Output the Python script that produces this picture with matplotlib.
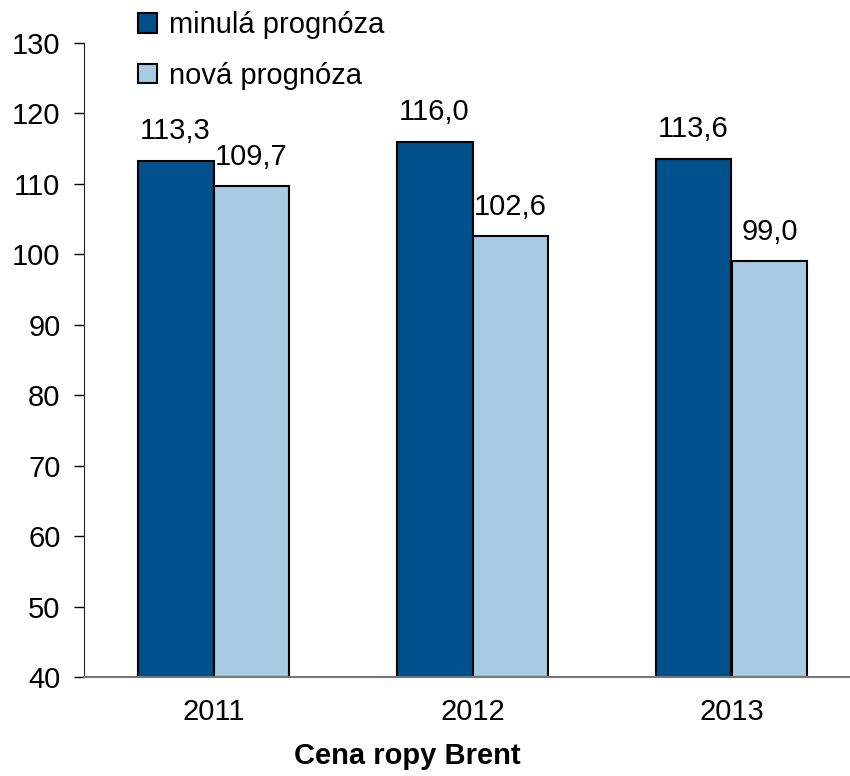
import numpy as np
import matplotlib.pyplot as plt
from matplotlib.patches import Patch

plt.rcParams['font.family'] = ['Liberation Sans', 'DejaVu Sans']

years = ["2011", "2012", "2013"]
old_forecast = [113.3, 116.0, 113.6]
new_forecast = [109.7, 102.6, 99.0]
series_names = ["minulá prognóza", "nová prognóza"]
yticks = list(range(40, 131, 10))

dark = "#00508C"
light = "#A6CBE3"
fs = 21

fig = plt.figure(figsize=(8.5, 7.76), dpi=100)
ax = fig.add_axes([84 / 850, 99 / 776, 777 / 850, 634 / 776])

x = np.arange(len(years))
w = 0.293
ax.bar(x - w / 2, [v - 40 for v in old_forecast], w, bottom=40,
       color=dark, edgecolor="black", linewidth=1.5)
ax.bar(x + w / 2, [v - 40 for v in new_forecast], w, bottom=40,
       color=light, edgecolor="black", linewidth=1.5)

# popisky hodnot nad sloupci
for xs, vals in ((x - w / 2, old_forecast), (x + w / 2, new_forecast)):
    for xi, v in zip(xs, vals):
        ax.annotate(f"{v:.1f}".replace(".", ","), (xi, v), xytext=(0, 11),
                    textcoords="offset points", ha="center", va="bottom",
                    fontsize=fs)

ax.set_xlim(-0.5, 2.5)
ax.set_ylim(40, 130)
ax.set_yticks(yticks)
ax.set_xticks(x)
ax.set_xticklabels(years)
ax.tick_params(axis="y", labelsize=fs, length=7, width=1, pad=10)
ax.tick_params(axis="x", labelsize=fs, length=0, pad=15)

for s in ("top", "right"):
    ax.spines[s].set_visible(False)
ax.spines["left"].set_color("#222222")
ax.spines["bottom"].set_color("#777777")
ax.spines["bottom"].set_linewidth(1.5)

handles = [Patch(facecolor=dark, edgecolor="black", linewidth=1.5),
           Patch(facecolor=light, edgecolor="black", linewidth=1.5)]
fig.legend(handles, series_names, loc="upper left",
           bbox_to_anchor=(112 / 850, 1 + 15 / 776), frameon=False,
           fontsize=fs, handlelength=0.65, handleheight=0.65,
           handletextpad=0.4, labelspacing=0.78)

fig.text(407 / 850, 1 - 756 / 776, "Cena ropy Brent", ha="center",
         va="center", fontsize=fs, fontweight="bold")

fig.savefig("out.png", dpi=100)
